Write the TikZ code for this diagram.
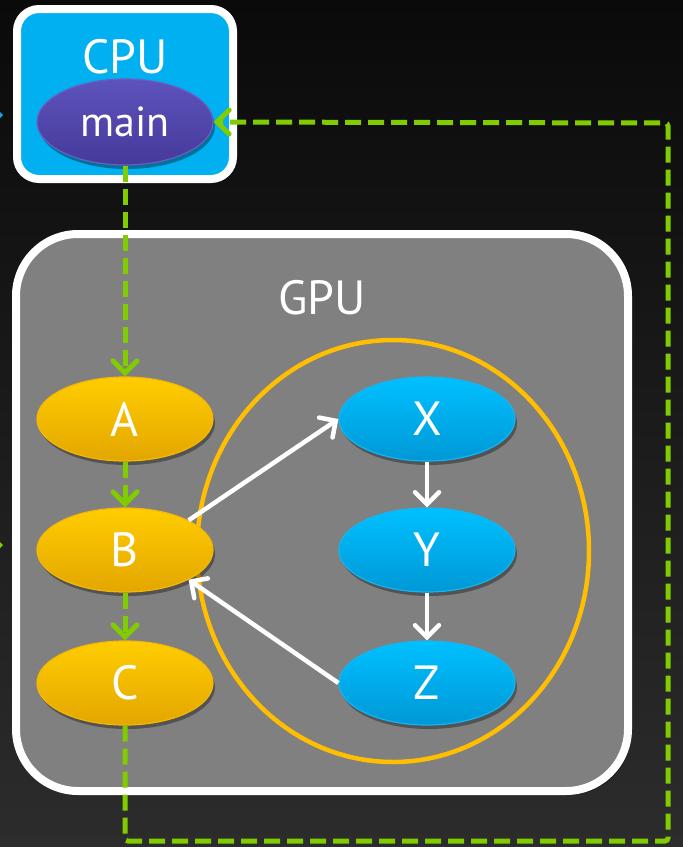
\documentclass[tikz,border=0pt]{standalone}
\usepackage{fontspec}
\setmainfont{PT Sans}
\usetikzlibrary{arrows.meta,shapes.geometric,shadows}

\definecolor{bgtop}{HTML}{0A0A0A}
\definecolor{bgbot}{HTML}{2C2C2C}
\definecolor{cpublue}{HTML}{00B0F0}
\definecolor{gpugray}{HTML}{808080}
\definecolor{flowgreen}{HTML}{80CC00}
\definecolor{ringorange}{HTML}{FFBE00}
\definecolor{ylwtop}{HTML}{FFCD00}
\definecolor{ylwbot}{HTML}{E3A600}
\definecolor{ylwedge}{HTML}{F7B900}
\definecolor{blutop}{HTML}{00C0FF}
\definecolor{blubot}{HTML}{0098D6}
\definecolor{bluedge}{HTML}{13B6F2}
\definecolor{purtop}{HTML}{5C53BC}
\definecolor{purbot}{HTML}{463A9A}
\definecolor{puredge}{HTML}{6A5FC0}

\tikzset{
  label/.style={text=white, inner sep=0pt, font=\fontsize{48}{52}\selectfont},
  boxshadow/.style={drop shadow={shadow xshift=3pt, shadow yshift=-4pt, opacity=0.45, fill=black}},
  nodeshadow/.style={drop shadow={shadow xshift=2pt, shadow yshift=-4pt, opacity=0.35, fill=black}},
  cpubox/.style={draw=white, line width=8pt, fill=cpublue, rounded corners=22pt,
    minimum width=216pt, minimum height=170pt, inner sep=0pt, boxshadow},
  gpubox/.style={draw=white, line width=8pt, fill=gpugray, rounded corners=62pt,
    minimum width=612pt, minimum height=557pt, inner sep=0pt, boxshadow},
  oval/.style={ellipse, minimum width=176pt, minimum height=84pt, inner sep=0pt,
    line width=1.2pt, text=white, font=\fontsize{48}{52}\selectfont, nodeshadow},
  kernel/.style={oval, draw=ylwedge, top color=ylwtop, bottom color=ylwbot},
  child/.style={oval, draw=bluedge, top color=blutop, bottom color=blubot},
  host/.style={oval, draw=puredge, top color=purtop, bottom color=purbot,
    minimum height=86pt, font=\fontsize{42}{46}\selectfont},
  ring/.style={draw=ringorange, line width=4.5pt},
  tip/.style={-{Straight Barb[length=12pt, width=24pt, line cap=round]}},
  launch/.style={draw=white, line width=4.5pt, tip},
  flow/.style={draw=flowgreen, line width=5pt, dash pattern=on 16pt off 7pt, tip},
}

\begin{document}
\begin{tikzpicture}[x=1pt, y=-1pt]
  % page and backdrop
  \useasboundingbox (0,0) rectangle (683,847);
  \shade[top color=bgtop, bottom color=bgbot] (0,0) rectangle (683,847);
  \clip (0,0) rectangle (683,847);

  % host side
  \node[cpubox] (cpu) at (125,94) {};
  \node[label] (cputitle) at (125,57) {CPU};
  \node[host] (main) at (125,122) {main};

  % device side
  \node[gpubox] (gpu) at (322,512.5) {};
  \node[label] (gputitle) at (322,298) {GPU};
  \draw[ring] (393,551) ellipse [x radius=196, y radius=211];

  \node[kernel] (A) at (125,419) {A};
  \node[kernel] (B) at (125,550) {B};
  \node[kernel] (C) at (125,683) {C};

  \node[child] (X) at (427,419) {X};
  \node[child] (Y) at (427,550) {Y};
  \node[child] (Z) at (427,683) {Z};

  % dynamic launches inside the GPU
  \draw[launch] (B.25) -- (X.west);
  \draw[launch] (X) -- (Y);
  \draw[launch] (Y) -- (Z);
  \draw[launch] (Z.west) -- (B.-25);

  % stream order, host to device and back
  \draw[flow] (main) -- (A);
  \draw[flow] (A) -- (B);
  \draw[flow] (B) -- (C);
  \coordinate (retbl) at (125,841);
  \coordinate (retbr) at (668,841);
  \coordinate (rettr) at (668,123);
  \draw[flow, rounded corners=3pt] (C.south) -- (retbl) -- (retbr) -- (rettr) -- (main.east);

  % incoming connectors entering from the left
  \coordinate (inhost) at (-40,115);
  \coordinate (inhostend) at (3,115);
  \draw[draw=cpublue, line width=4pt, tip] (inhost) -- (inhostend);
  \coordinate (indev) at (-40,545);
  \coordinate (indevend) at (3,545);
  \draw[draw=flowgreen, line width=4pt, tip] (indev) -- (indevend);
\end{tikzpicture}
\end{document}
